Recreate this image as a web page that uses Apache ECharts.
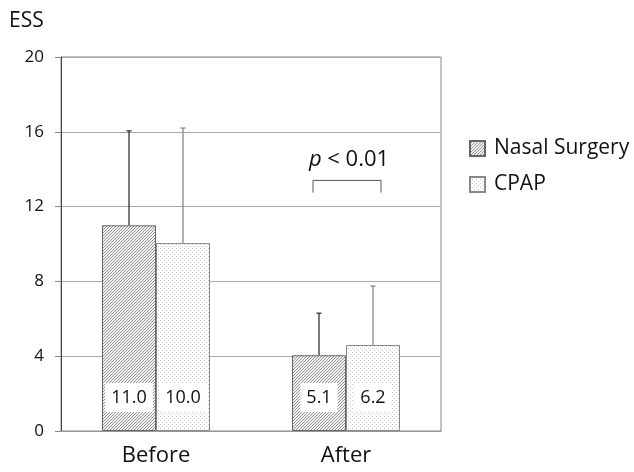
<!DOCTYPE html>
<html><head><meta charset="utf-8">
<script src="https://cdn.jsdelivr.net/npm/echarts@6/dist/echarts.min.js"></script>
<style>html,body{margin:0;padding:0;background:#fff}#c{width:634px;height:472px}</style>
</head><body><div id="c"></div>
<script>
const categories = ['Before', 'After'];
const seriesNames = ['Nasal Surgery', 'CPAP'];
const nasalValues = [11.0, 4.05];
const cpapValues = [10.05, 4.6];
const nasalErrTop = [16.05, 6.3];
const cpapErrTop = [16.2, 7.75];
const nasalLabels = ['11.0', '5.1'];
const cpapLabels = ['10.0', '6.2'];
const yTicks = [0, 4, 8, 12, 16, 20];
const yName = 'ESS';
const pText = 'p < 0.01';

function hatch() {
  const c = document.createElement('canvas'); c.width = 3; c.height = 3;
  const g = c.getContext('2d');
  g.fillStyle = '#f2f2f2'; g.fillRect(0, 0, 3, 3);
  g.fillStyle = '#929292';
  g.fillRect(0, 2, 1, 1); g.fillRect(1, 1, 1, 1); g.fillRect(2, 0, 1, 1);
  return c;
}
function dots() {
  const c = document.createElement('canvas'); c.width = 4; c.height = 4;
  const g = c.getContext('2d');
  g.fillStyle = '#fff'; g.fillRect(0, 0, 4, 4);
  g.fillStyle = '#c8c8c8'; g.fillRect(0, 0, 1, 1); g.fillRect(2, 2, 1, 1);
  return c;
}
const font = '"Open Sans", sans-serif';
const chart = echarts.init(document.getElementById('c'));
const BW = 54;
function errSeries(errs, vals, sign, color) {
  return {
    type: 'custom', silent: true, z: 1,
    data: errs.map((e, i) => [i, vals[i], e]),
    renderItem: function (params, api) {
      const i = api.value(0);
      const base = api.coord([i, api.value(1)]);
      const top = api.coord([i, api.value(2)]);
      const x = base[0] + sign * BW / 2;
      return { type: 'group', children: [
        { type: 'line', shape: { x1: x, y1: base[1], x2: x, y2: top[1] }, style: { stroke: color, lineWidth: 1.3 } },
        { type: 'line', shape: { x1: x - 2.5, y1: top[1], x2: x + 2.5, y2: top[1] }, style: { stroke: color, lineWidth: 1.3 } }
      ] };
    }
  };
}
function labelCfg(arr) {
  return {
    show: true, position: 'insideBottom', distance: 19,
    formatter: p => arr[p.dataIndex],
    backgroundColor: '#fff', padding: [4, 6, 3, 6], lineHeight: 22,
    color: '#111', fontSize: 18, fontFamily: font
  };
}
chart.setOption({
  animation: false,
  grid: { left: 61, right: 193, top: 57, bottom: 41, show: true, borderColor: '#888', borderWidth: 1 },
  legend: {
    orient: 'vertical', left: 464, top: 133, itemWidth: 15, itemHeight: 15, itemGap: 15,
    icon: 'rect', data: seriesNames,
    textStyle: { fontSize: 21, fontFamily: font, color: '#111', padding: [0, 0, 0, 4] }
  },
  xAxis: {
    type: 'category', data: categories,
    axisLine: { lineStyle: { color: '#999' } }, axisTick: { show: false },
    axisLabel: { fontSize: 22, fontFamily: font, color: '#111', margin: 14 }
  },
  yAxis: {
    type: 'value', min: 0, max: 20, interval: 4,
    axisLine: { show: true, lineStyle: { color: '#444' } },
    axisTick: { show: true, length: 6, lineStyle: { color: '#888' } },
    axisLabel: { fontSize: 17, fontFamily: font, color: '#111', margin: 17,
      formatter: v => yTicks.includes(v) ? String(v) : '' },
    splitLine: { lineStyle: { color: '#a8a8a8' } }
  },
  series: [
    { name: seriesNames[0], type: 'bar', data: nasalValues, barWidth: BW, barGap: '0%', z: 2,
      itemStyle: { color: { image: hatch(), repeat: 'repeat' }, borderColor: '#666', borderWidth: 1 },
      label: labelCfg(nasalLabels) },
    { name: seriesNames[1], type: 'bar', data: cpapValues, barWidth: BW, z: 2,
      itemStyle: { color: { image: dots(), repeat: 'repeat' }, borderColor: '#888', borderWidth: 1 },
      label: labelCfg(cpapLabels) },
    errSeries(nasalErrTop, nasalValues, -1, '#333'),
    errSeries(cpapErrTop, cpapValues, 1, '#888')
  ]
});
const c1 = chart.convertToPixel({ xAxisIndex: 0, yAxisIndex: 0 }, [1, 13.4]);
const c2 = chart.convertToPixel({ xAxisIndex: 0, yAxisIndex: 0 }, [1, 12.75]);
const c3 = chart.convertToPixel({ xAxisIndex: 0, yAxisIndex: 0 }, [1, 14.5]);
const L = c1[0] - 33, R = c1[0] + 35;
chart.setOption({
  graphic: [
    { type: 'text', x: 9, y: 21, style: { text: yName, fontSize: 21, fontFamily: font, fill: '#111', verticalAlign: 'middle' } },
    { type: 'polyline', shape: { points: [[L, c2[1]], [L, c1[1]], [R, c1[1]], [R, c2[1]]] }, style: { stroke: '#555', lineWidth: 1, fill: null } },
    { type: 'text', x: c3[0] + 3, y: c3[1], style: { text: '{i|p} < 0.01', rich: { i: { fontStyle: 'italic', fontSize: 22, fontFamily: font, fill: '#111' } },
      fontSize: 22, fontFamily: font, fill: '#111', align: 'center', verticalAlign: 'middle' } }
  ]
});
</script></body></html>
